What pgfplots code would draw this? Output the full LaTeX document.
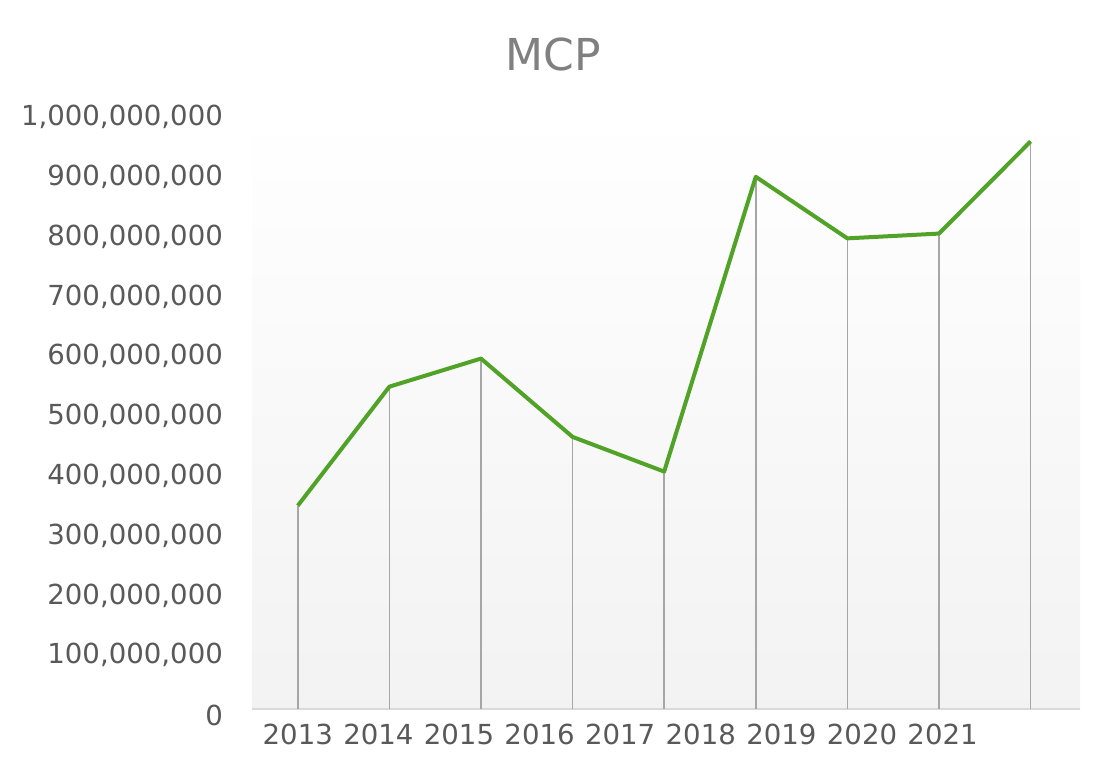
\documentclass[border=0pt]{standalone}
\usepackage{fontspec}
\setmainfont{DejaVu Sans}
\usepackage{pgfplots}
\pgfplotsset{compat=1.18}
\definecolor{mcpgreen}{RGB}{80,163,38}
\definecolor{txtgray}{RGB}{89,89,89}
\definecolor{dropgray}{RGB}{166,166,166}
\definecolor{axisgray}{RGB}{217,217,217}

\begin{document}
\begin{tikzpicture}
\begin{axis}[
  at={(0,0)}, anchor=south west,
  width=414pt, height=299pt, scale only axis,
  xmin=-0.5, xmax=8.54, ymin=0, ymax=1000000000,
  axis x line*=bottom, axis y line*=left,
  x axis line style={axisgray, line width=0.8pt, -},
  y axis line style={draw=none},
  xtick={0,0.88,1.76,2.64,3.52,4.40,5.28,6.16,7.04},
  xticklabels={2013,2014,2015,2016,2017,2018,2019,2020,2021},
  ytick={0,100000000,200000000,300000000,400000000,500000000,600000000,700000000,800000000,900000000,1000000000},
  scaled y ticks=false,
  major tick length=0pt,
  tick label style={font=\fontsize{13.8}{16}\selectfont, text=txtgray},
  xticklabel style={yshift=-4pt},
  yticklabel style={anchor=east, xshift=-11pt, yshift=-3pt},
  /pgf/number format/.cd, fixed, 1000 sep={,}, assume math mode=true,
  /pgfplots/.cd,
  axis background/.style={shade, top color=white, bottom color=black!5, draw=none},
  clip=false,
]
\addplot[ycomb, dropgray, line width=0.8pt, mark=none]
  coordinates {(0,340000000)(1,539000000)(2,586000000)(3,455000000)(4,397000000)(5,890000000)(6,787000000)(7,795000000)(8,949000000)};
\addplot[mcpgreen, line width=2pt, mark=none, line join=round]
  coordinates {(0,340000000)(1,539000000)(2,586000000)(3,455000000)(4,397000000)(5,890000000)(6,787000000)(7,795000000)(8,949000000)};
\end{axis}
\node[text=gray, font=\fontsize{22}{26}\selectfont] at (150.5pt,327.5pt) {MCP};
\useasboundingbox (-126pt,-33pt) rectangle (422pt,354.5pt);
\end{tikzpicture}
\end{document}
